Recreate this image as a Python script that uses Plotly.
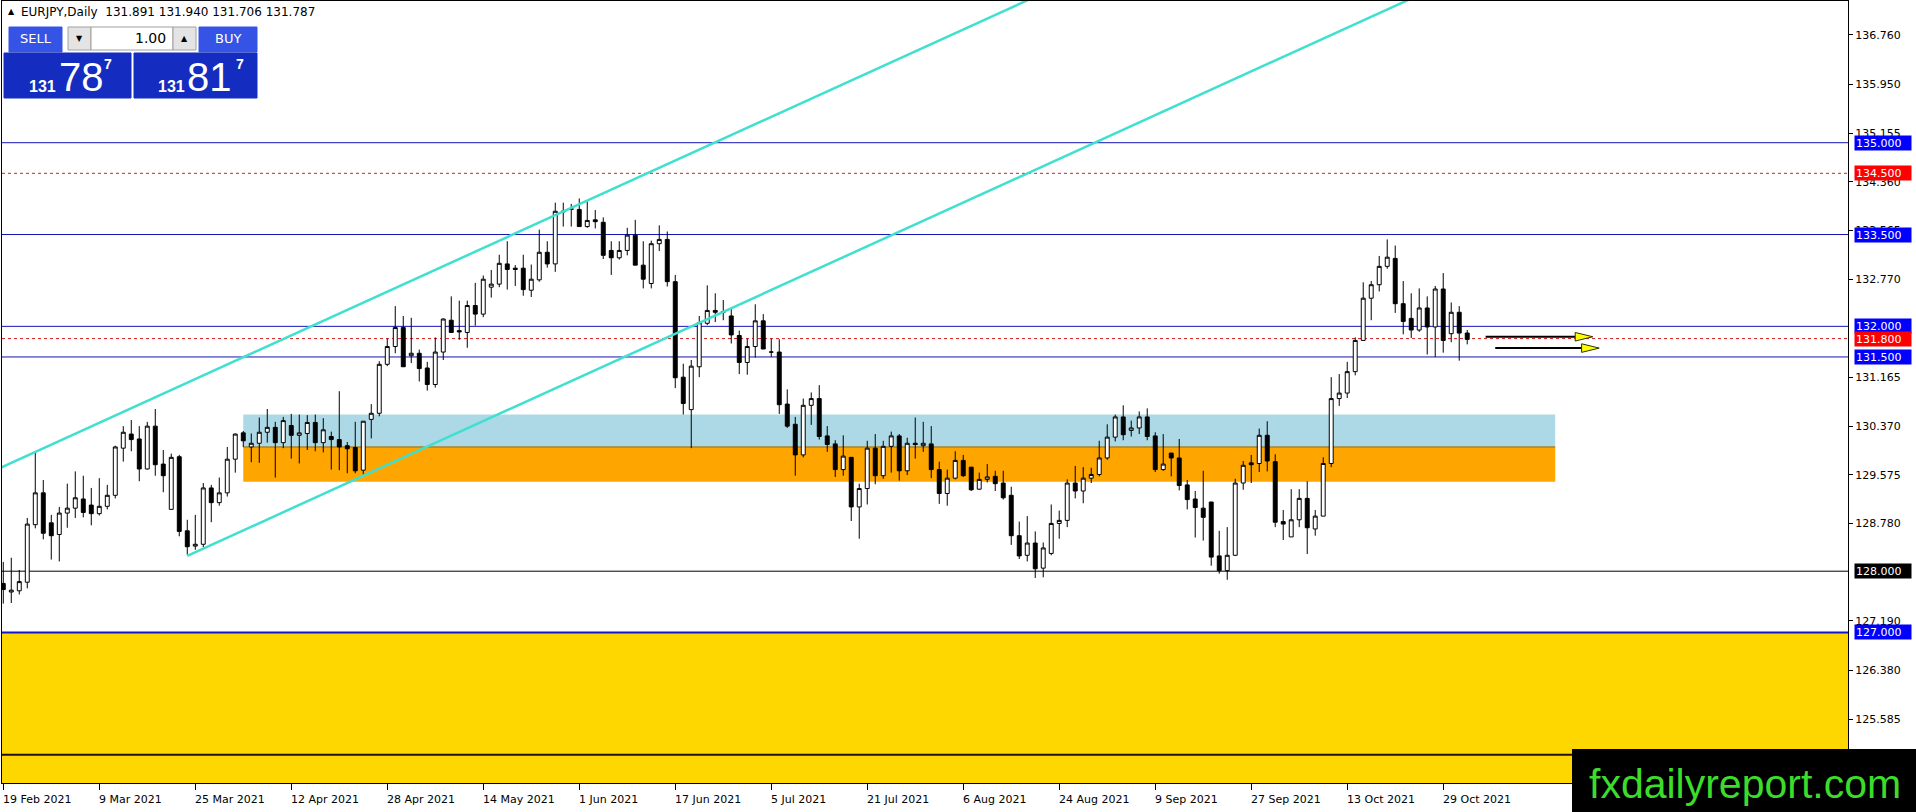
import plotly.graph_objects as go

# EURJPY daily candles, one per trading day from 19 Feb 2021 to 3 Nov 2021
open_ = [127.80, 127.66, 127.68, 127.82, 128.76, 129.28, 128.79, 128.60, 128.95, 129.03,
         129.18, 129.08, 128.94, 129.06, 129.24, 130.01, 130.24, 130.16, 129.67, 130.37,
         129.75, 129.01, 129.87, 128.66, 128.41, 128.44, 129.36, 129.12, 129.28, 129.83,
         130.26, 130.03, 130.09, 130.27, 130.35, 130.10, 130.38, 130.22, 130.25, 130.43,
         130.10, 130.20, 130.15, 130.05, 130.02, 129.65, 130.48, 130.58, 131.38, 131.67,
         131.98, 131.52, 131.56, 131.32, 131.05, 131.58, 132.10, 131.93, 131.90, 132.34,
         132.20, 132.64, 132.69, 133.02, 132.95, 132.95, 132.59, 132.76, 133.21, 133.02,
         133.87, 133.91, 133.91, 133.63, 133.74, 133.70, 133.24, 133.12, 133.24, 133.49,
         133.00, 132.70, 133.35, 133.42, 132.73, 131.17, 130.64, 131.34, 132.05, 132.26,
         132.23, 132.17, 131.85, 131.41, 131.67, 132.09, 131.58, 131.58, 130.73, 130.40,
         129.90, 130.71, 130.82, 130.21, 130.08, 129.66, 129.86, 129.05, 129.35, 130.01,
         129.56, 130.04, 130.21, 129.64, 130.09, 130.05, 130.08, 129.66, 129.27, 129.52,
         129.81, 129.70, 129.34, 129.50, 129.55, 129.44, 129.24, 128.58, 128.26, 128.46,
         128.05, 128.29, 128.78, 128.83, 129.44, 129.31, 129.52, 129.58, 129.85, 130.19,
         130.52, 130.30, 130.34, 130.52, 130.21, 129.66, 129.93, 129.85, 129.41, 129.18,
         129.03, 129.13, 128.25, 128.01, 128.26, 129.44, 129.77, 129.76, 130.22, 129.79,
         128.81, 128.56, 128.84, 129.19, 128.69, 128.90, 129.76, 130.82, 130.91, 131.26,
         131.77, 132.46, 132.68, 132.98, 133.11, 132.37, 132.13, 131.94, 132.30, 131.99,
         132.61, 131.88, 132.23, 131.891]
high_ = [128.15, 128.22, 128.02, 128.87, 129.93, 129.49, 128.92, 129.05, 129.43, 129.63,
         129.56, 129.36, 129.52, 129.41, 130.05, 130.37, 130.47, 130.37, 130.44, 130.65,
         129.98, 129.92, 129.90, 128.84, 128.92, 129.44, 129.41, 129.53, 130.03, 130.25,
         130.29, 130.25, 130.51, 130.65, 130.44, 130.52, 130.57, 130.56, 130.55, 130.56,
         130.50, 130.28, 130.94, 130.11, 130.44, 130.45, 130.73, 131.43, 131.80, 132.33,
         132.17, 132.14, 131.62, 131.42, 131.82, 132.13, 132.49, 132.42, 132.42, 132.71,
         132.83, 132.92, 133.17, 133.39, 133.00, 133.17, 133.01, 133.58, 133.39, 134.02,
         134.02, 134.00, 134.09, 134.04, 133.90, 133.78, 133.39, 133.39, 133.61, 133.74,
         133.39, 133.40, 133.65, 133.55, 132.84, 131.39, 131.45, 132.17, 132.67, 132.54,
         132.43, 132.30, 131.93, 131.80, 132.36, 132.20, 131.80, 131.79, 130.97, 130.52,
         130.82, 130.92, 131.04, 130.37, 130.14, 130.22, 129.86, 129.43, 130.13, 130.24,
         130.13, 130.28, 130.24, 130.18, 130.51, 130.44, 130.37, 129.79, 129.66, 129.96,
         129.90, 129.70, 129.61, 129.75, 129.64, 129.64, 129.38, 128.81, 128.90, 128.65,
         128.47, 129.09, 128.99, 129.50, 129.72, 129.70, 129.69, 130.13, 130.40, 130.56,
         130.71, 130.46, 130.61, 130.66, 130.27, 130.24, 129.93, 130.16, 129.49, 129.31,
         129.64, 129.13, 128.66, 128.72, 129.51, 129.80, 129.90, 130.33, 130.45, 129.91,
         129.00, 129.34, 129.34, 129.47, 129.00, 129.86, 131.17, 131.22, 131.42, 131.82,
         132.72, 132.74, 133.15, 133.42, 133.32, 132.74, 132.54, 132.62, 132.49, 132.66,
         132.87, 132.39, 132.33, 131.940]
low_ = [127.47, 127.48, 127.62, 127.72, 128.70, 128.52, 128.19, 128.16, 128.71, 128.87,
        128.88, 128.75, 128.91, 129.01, 129.19, 129.79, 129.96, 129.47, 129.66, 129.56,
        129.29, 129.01, 128.57, 128.27, 128.35, 128.39, 128.80, 129.07, 129.22, 129.61,
        130.03, 129.78, 129.77, 130.10, 129.53, 130.01, 129.84, 129.76, 129.98, 129.96,
        129.94, 129.66, 129.65, 129.60, 129.60, 129.58, 130.17, 130.53, 131.35, 131.56,
        131.34, 131.40, 131.10, 130.95, 131.00, 131.45, 131.90, 131.78, 131.65, 132.01,
        132.15, 132.47, 132.64, 132.60, 132.66, 132.50, 132.48, 132.73, 132.96, 132.89,
        133.63, 133.63, 133.63, 133.61, 133.60, 133.10, 132.84, 133.09, 133.16, 133.00,
        132.62, 132.62, 133.23, 132.65, 130.99, 130.56, 130.01, 131.17, 132.02, 132.07,
        132.10, 131.72, 131.22, 131.21, 131.49, 131.63, 131.50, 130.57, 130.34, 129.56,
        129.86, 130.39, 130.15, 129.95, 129.54, 129.56, 128.82, 128.53, 129.09, 129.42,
        129.51, 129.61, 129.48, 129.57, 129.84, 129.95, 129.52, 129.10, 129.07, 129.50,
        129.54, 129.31, 129.33, 129.45, 129.31, 129.17, 128.43, 128.20, 128.16, 127.89,
        127.90, 128.26, 128.53, 128.72, 129.19, 129.11, 129.44, 129.55, 129.82, 130.12,
        130.14, 130.20, 130.24, 130.14, 129.62, 129.64, 129.55, 129.32, 129.01, 128.55,
        128.50, 128.09, 127.96, 127.86, 128.25, 129.33, 129.44, 129.62, 129.63, 128.72,
        128.51, 128.56, 128.72, 128.28, 128.58, 128.90, 129.70, 130.70, 130.83, 131.20,
        131.77, 132.10, 132.57, 132.94, 132.22, 131.87, 131.81, 131.91, 131.54, 131.50,
        131.57, 131.74, 131.44, 131.706]
close_ = [127.70, 127.69, 127.83, 128.77, 129.28, 128.62, 128.58, 128.95, 129.03, 129.20,
          128.96, 128.94, 129.06, 129.24, 130.03, 130.27, 130.15, 129.67, 130.37, 129.74,
          129.56, 129.86, 128.65, 128.40, 128.44, 129.36, 129.12, 129.28, 129.83, 130.24,
          130.13, 130.09, 130.27, 130.35, 130.10, 130.46, 130.22, 130.26, 130.43, 130.10,
          130.31, 130.15, 130.03, 130.00, 129.64, 130.45, 130.58, 131.38, 131.67, 131.98,
          131.34, 131.56, 131.31, 131.05, 131.58, 132.12, 131.90, 131.91, 132.34, 132.20,
          132.77, 132.69, 133.03, 132.93, 132.93, 132.60, 132.77, 133.21, 133.02, 133.88,
          133.88, 133.92, 133.63, 133.73, 133.71, 133.16, 133.12, 133.24, 133.49, 133.00,
          132.77, 133.35, 133.42, 132.73, 131.16, 130.74, 131.35, 132.06, 132.26, 132.23,
          132.24, 131.86, 131.41, 131.67, 132.09, 131.63, 131.58, 130.72, 130.37, 129.90,
          130.71, 130.82, 130.20, 130.07, 129.66, 129.88, 129.05, 129.35, 130.01, 129.56,
          130.04, 130.21, 129.64, 130.09, 130.07, 130.09, 129.66, 129.27, 129.52, 129.81,
          129.56, 129.33, 129.50, 129.54, 129.43, 129.20, 128.58, 128.25, 128.46, 128.04,
          128.38, 128.78, 128.83, 129.44, 129.31, 129.52, 129.58, 129.85, 130.19, 130.52,
          130.23, 130.34, 130.52, 130.20, 129.66, 129.75, 129.85, 129.40, 129.17, 129.04,
          128.88, 128.23, 128.01, 128.26, 129.44, 129.73, 129.74, 130.22, 129.80, 128.80,
          128.77, 128.84, 129.19, 128.71, 128.90, 129.76, 130.82, 130.91, 131.26, 131.77,
          132.46, 132.68, 132.98, 133.13, 132.37, 132.08, 131.94, 132.30, 131.99, 132.61,
          131.77, 132.23, 131.89, 131.787]
bar_no = list(range(len(close_)))

# time scale labels (every 12th bar) and price scale labels
date_label_bars = [0, 12, 24, 36, 48, 60, 72, 84, 96, 108, 120, 132, 144, 156, 168, 180]
date_labels = ["19 Feb 2021", "9 Mar 2021", "25 Mar 2021", "12 Apr 2021", "28 Apr 2021",
               "14 May 2021", "1 Jun 2021", "17 Jun 2021", "5 Jul 2021", "21 Jul 2021",
               "6 Aug 2021", "24 Aug 2021", "9 Sep 2021", "27 Sep 2021", "13 Oct 2021",
               "29 Oct 2021"]
price_ticks = [136.760, 135.950, 135.155, 134.360, 133.565, 132.770, 131.165,
               130.370, 129.575, 128.780, 127.190, 126.380, 125.585]

# horizontal levels drawn on the chart
level_prices = [135.0, 134.5, 133.5, 132.0, 131.8, 131.5, 128.0, 127.0, 125.0]
level_colors = ["#1414B4", "#D21E1E", "#1414B4", "#1414B4", "#D21E1E", "#1414B4",
                "#000000", "#1414C8", "#201020"]
level_dash = ["solid", "dot", "solid", "solid", "dot", "solid", "solid", "solid", "solid"]
level_width = [1, 1, 1, 1, 1, 1, 1, 2, 2]
level_label_bg = ["#0000FF", "#FF0000", "#0000FF", "#0000FF", "#FF0000", "#0000FF",
                  "#000000", "#0000FF", None]

# zones
zone_bars = [30, 194]
blue_zone = [130.03, 130.56]
orange_zone = [129.46, 130.03]
gold_top = 127.0

# rising channel (bar, price) end points
upper_bars, upper_prices = [-1, 140], [129.65, 138.04]
lower_bars, lower_prices = [23, 185], [128.25, 137.89]

# two arrows right of the last candle
arrow_prices = [131.83, 131.645]
arrow_from = [185.3, 186.5]
arrow_head = [196.5, 197.3]
arrow_tip = [198.7, 199.5]
arrow_half = 0.07

X_RANGE = [-0.16, 230.6]
Y_RANGE = [124.54, 137.315]
PL, PR, PT, PB = 2, 1848, 1, 783
FONT = "DejaVu Sans"


def px(x):
    return (x - PL) / (PR - PL)


def py(y):
    return 1 - (y - PT) / (PB - PT)


fig = go.Figure()
fig.add_trace(go.Candlestick(
    x=bar_no, open=open_, high=high_, low=low_, close=close_,
    increasing=dict(line=dict(color="black", width=1), fillcolor="white"),
    decreasing=dict(line=dict(color="black", width=1), fillcolor="black"),
    whiskerwidth=0, hoverinfo="skip", showlegend=False))

for bx, pr in [(upper_bars, upper_prices), (lower_bars, lower_prices)]:
    fig.add_trace(go.Scatter(x=bx, y=pr, mode="lines", hoverinfo="skip",
                             line=dict(color="#40E0D0", width=2.5), showlegend=False))

shapes = []
# background zones
shapes.append(dict(type="rect", xref="paper", yref="y", x0=0, x1=1, y0=Y_RANGE[0], y1=gold_top,
                   fillcolor="#FFD700", line_width=0, layer="below"))
shapes.append(dict(type="rect", xref="x", yref="y", x0=zone_bars[0], x1=zone_bars[1],
                   y0=blue_zone[0], y1=blue_zone[1], fillcolor="#ADD8E6", line_width=0, layer="below"))
shapes.append(dict(type="rect", xref="x", yref="y", x0=zone_bars[0], x1=zone_bars[1],
                   y0=orange_zone[0], y1=orange_zone[1], fillcolor="#FFA500", line_width=0, layer="below"))
shapes.append(dict(type="line", xref="x", yref="y", x0=zone_bars[0], x1=zone_bars[1],
                   y0=orange_zone[1], y1=orange_zone[1], line=dict(color="#A8842A", width=1.5), layer="below"))

for p, c, d, w in zip(level_prices, level_colors, level_dash, level_width):
    shapes.append(dict(type="line", xref="paper", yref="y", x0=0, x1=1, y0=p, y1=p,
                       line=dict(color=c, width=w, dash=d), layer="below"))

for p, x0, xh, xt in zip(arrow_prices, arrow_from, arrow_head, arrow_tip):
    shapes.append(dict(type="line", xref="x", yref="y", x0=x0, x1=xh, y0=p, y1=p,
                       line=dict(color="black", width=2)))
    shapes.append(dict(type="path", xref="x", yref="y",
                       path=f"M {xh},{p - arrow_half} L {xt},{p} L {xh},{p + arrow_half} Z",
                       fillcolor="#FFFF00", line=dict(color="#303000", width=1)))

# one click trading panel
panel = [
    (9, 27, 62, 52, "#3554E6", "#3554E6"),
    (68, 27, 91, 50, "#E4E4E4", "#A0A0A0"),
    (91, 27, 173, 50, "#FFFFFF", "#A0A0A0"),
    (173, 27, 196, 50, "#E4E4E4", "#A0A0A0"),
    (199, 27, 257, 52, "#3554E6", "#3554E6"),
    (4, 53, 131, 98, "#142CC0", "#142CC0"),
    (134, 53, 257, 98, "#142CC0", "#142CC0"),
]
for x0, y0, x1, y1, fc, lc in panel:
    shapes.append(dict(type="rect", xref="paper", yref="paper", x0=px(x0), x1=px(x1),
                       y0=py(y1), y1=py(y0), fillcolor=fc, line=dict(color=lc, width=1)))
shapes.append(dict(type="rect", xref="paper", yref="paper", x0=px(1572), x1=px(1920),
                   y0=py(816), y1=py(749), fillcolor="black", line_width=0))

ann = []


def txt(x, y, s, size, color="black", family=FONT, xanchor="center", bold=False):
    if bold:
        s = f"<b>{s}</b>"
    ann.append(dict(xref="paper", yref="paper", x=px(x), y=py(y), text=s, showarrow=False,
                    xanchor=xanchor, yanchor="middle",
                    font=dict(family=family, size=size, color=color)))


txt(11, 12, "▲", 8)
txt(19, 12, "EURJPY,Daily  131.891 131.940 131.706 131.787", 12, xanchor="left")
txt(35.5, 39, "SELL", 13, "white")
txt(228, 39, "BUY", 13, "white")
txt(79.5, 38.5, "▼", 8)
txt(184.5, 38.5, "▲", 8)
txt(168, 38.5, "1.00", 14, xanchor="right")
for x131, xbig, xsup, big in [(42, 81, 108, "78"), (171, 209, 240, "81")]:
    txt(x131, 86, "131", 16, "white", "Liberation Sans", bold=True)
    txt(xbig, 77, big, 40, "white", "Liberation Sans")
    txt(xsup, 64, "7", 14, "white", "Liberation Sans", bold=True)
txt(1745, 784, "fxdailyreport.com", 41, "#3DDC2B", "Liberation Sans")

for b, lab in zip(date_label_bars, date_labels):
    ann.append(dict(xref="x", yref="paper", x=b, y=0, yshift=-8, xshift=-2, text=lab,
                    showarrow=False, xanchor="left", yanchor="top",
                    font=dict(family=FONT, size=11, color="black")))

for p, bg in zip(level_prices, level_label_bg):
    if bg is None:
        continue
    ann.append(dict(xref="paper", yref="y", x=1, y=p, xshift=6, text=f"{p:.3f}",
                    showarrow=False, xanchor="left", yanchor="middle", bgcolor=bg,
                    width=54, height=12, borderpad=1, align="left",
                    font=dict(family=FONT, size=11, color="white")))

fig.update_layout(
    template="none", width=1916, height=812, autosize=False,
    margin=dict(l=PL, r=1916 - PR, t=PT, b=812 - PB),
    paper_bgcolor="white", plot_bgcolor="white", showlegend=False,
    shapes=shapes, annotations=ann, hovermode=False,
    xaxis=dict(range=X_RANGE, showgrid=False, zeroline=False, showline=True, mirror=True,
               linecolor="black", linewidth=1, tickvals=date_label_bars, ticks="outside",
               ticklen=6, tickcolor="black", showticklabels=False,
               rangeslider=dict(visible=False), automargin=False),
    yaxis=dict(range=Y_RANGE, side="right", showgrid=False, zeroline=False, showline=True,
               mirror=True, linecolor="black", linewidth=1, tickvals=price_ticks,
               ticktext=[f"{t:.3f}" for t in price_ticks], ticks="outside", ticklen=4,
               tickcolor="black", tickfont=dict(family=FONT, size=11, color="black"),
               automargin=False),
)

# the page body has a default 8px margin; drop it so the chart sits at the window corner
fig.write_html("out.html", config={"displayModeBar": False},
               post_script="document.body.style.margin='0';")
